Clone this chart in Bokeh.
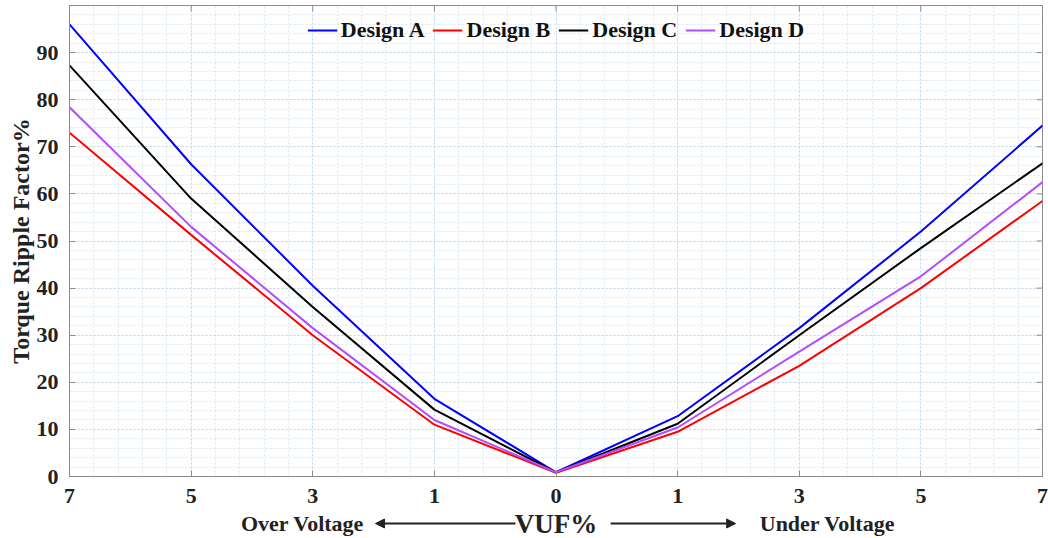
import math
from bokeh.plotting import figure
from bokeh.layouts import column
from bokeh.models import (FixedTicker, Label, Arrow, NormalHead, Range1d, Legend, LegendItem)
from bokeh.embed import file_html
from bokeh.resources import INLINE

# ---- data ----
x_labels = ["7", "5", "3", "1", "0", "1", "3", "5", "7"]
design_a = [96.0, 66.3, 40.5, 16.5, 0.9, 12.8, 31.5, 52.0, 74.5]
design_b = [73.0, 51.3, 30.0, 11.0, 0.8, 9.5, 23.5, 40.0, 58.5]
design_c = [87.3, 59.0, 36.0, 14.2, 0.9, 11.2, 30.0, 48.5, 66.5]
design_d = [78.4, 53.0, 31.5, 12.0, 0.9, 10.4, 26.5, 42.5, 62.5]
series_names = ["Design A", "Design B", "Design C", "Design D"]
series_colors = ["#0000ff", "#ff0000", "#000000", "#b14cff"]
y_ticks = [0, 10, 20, 30, 40, 50, 60, 70, 80, 90]
y_max = 100

xs = list(range(len(x_labels)))
FONT = "Liberation Serif"
TXT = "#222222"
AX = "#8c8c8c"
W = 1048
FRAME_L, FRAME_R, FRAME_T, FRAME_B = 69, 6, 5, 34
H1 = 510
H2 = 538 - H1

p = figure(width=W, height=H1, output_backend="svg", toolbar_location=None,
           x_range=Range1d(0, len(x_labels) - 1), y_range=Range1d(0, y_max),
           min_border_left=FRAME_L, min_border_right=FRAME_R,
           min_border_top=FRAME_T, min_border_bottom=FRAME_B,
           background_fill_color="white", border_fill_color="white")
p.outline_line_color = AX
p.outline_line_width = 1

# axes
p.xaxis.ticker = FixedTicker(ticks=xs,
                             minor_ticks=[i / 5 for i in range(0, 5 * (len(xs) - 1) + 1)])
p.xaxis.major_label_overrides = {i: l for i, l in enumerate(x_labels)}
p.yaxis.ticker = FixedTicker(ticks=y_ticks,
                             minor_ticks=[i * 2 for i in range(0, y_max // 2 + 1)])
for ax in (p.xaxis[0], p.yaxis[0]):
    ax.axis_line_color = AX
    ax.major_tick_line_color = AX
    ax.major_tick_in = 6
    ax.major_tick_out = 0
    ax.minor_tick_line_color = None
    ax.major_label_text_font = FONT
    ax.major_label_text_font_style = "bold"
    ax.major_label_text_font_size = "22px"
    ax.major_label_text_color = TXT
p.xaxis.major_label_standoff = 8
p.yaxis.major_label_standoff = 7
p.yaxis.axis_label = "Torque Ripple Factor%"
p.yaxis.axis_label_text_font = FONT
p.yaxis.axis_label_text_font_style = "bold"
p.yaxis.axis_label_text_font_size = "24px"
p.yaxis.axis_label_text_color = TXT
p.yaxis.axis_label_standoff = 0

# tick marks on the top and right edges of the box
px_per_y = (H1 - FRAME_T - FRAME_B) / y_max
px_per_x = (W - FRAME_L - FRAME_R) / (len(xs) - 1)
p.segment(x0=xs, y0=[y_max] * len(xs), x1=xs, y1=[y_max - 6 / px_per_y] * len(xs),
          line_color=AX, line_width=1)
p.segment(x0=[len(xs) - 1] * len(y_ticks), y0=y_ticks,
          x1=[len(xs) - 1 - 6 / px_per_x] * len(y_ticks), y1=y_ticks,
          line_color=AX, line_width=1)

# grid
for g in (p.xgrid[0], p.ygrid[0]):
    g.grid_line_color = "#c5d9ec"
    g.grid_line_dash = "2 2"
    g.grid_line_width = 1
    g.minor_grid_line_color = "#d9e6f2"
    g.minor_grid_line_dash = "2 2"
    g.minor_grid_line_width = 1

# lines
items = []
for name, col, vals in zip(series_names, series_colors,
                           [design_a, design_b, design_c, design_d]):
    r = p.line(xs, vals, line_color=col, line_width=2)
    items.append(LegendItem(label=name, renderers=[r]))

legend = Legend(items=items, orientation="horizontal", location="top_center",
                background_fill_alpha=0, border_line_color=None,
                label_text_font=FONT, label_text_font_style="bold",
                label_text_font_size="22px", label_text_color="#111111",
                glyph_width=30, label_standoff=4, spacing=8, margin=12,
                padding=2)
p.add_layout(legend, "center")

# ---- strip under the axis with the x-axis caption ----
p2 = figure(width=W, height=H2, output_backend="svg", toolbar_location=None,
            x_range=p.x_range, y_range=Range1d(0, H2),
            min_border_left=FRAME_L, min_border_right=FRAME_R,
            min_border_top=0, min_border_bottom=0,
            background_fill_color="white", border_fill_color="white")
p2.outline_line_color = None
p2.xaxis.visible = False
p2.yaxis.visible = False
p2.xgrid.visible = False
p2.ygrid.visible = False

cap_y = 15
p2.add_layout(Label(x=4.0, y=cap_y, text="VUF%", text_font=FONT,
                    text_font_style="bold", text_font_size="27px", text_color=TXT,
                    text_align="center", text_baseline="middle"))
p2.add_layout(Label(x=1.916, y=cap_y, text="Over Voltage", text_font=FONT,
                    text_font_style="bold", text_font_size="22px", text_color=TXT,
                    text_align="center", text_baseline="middle"))
p2.add_layout(Label(x=6.232, y=cap_y, text="Under Voltage", text_font=FONT,
                    text_font_style="bold", text_font_size="22px", text_color=TXT,
                    text_align="center", text_baseline="middle"))
p2.add_layout(Arrow(x_start=3.667, y_start=cap_y, x_end=2.516, y_end=cap_y,
                    line_color=TXT, line_width=2,
                    end=NormalHead(size=9, fill_color=TXT, line_color=TXT)))
p2.add_layout(Arrow(x_start=4.449, y_start=cap_y, x_end=5.477, y_end=cap_y,
                    line_color=TXT, line_width=2,
                    end=NormalHead(size=9, fill_color=TXT, line_color=TXT)))

layout = column(p, p2, spacing=0)
open("out.html", "w").write(file_html(layout, INLINE))
